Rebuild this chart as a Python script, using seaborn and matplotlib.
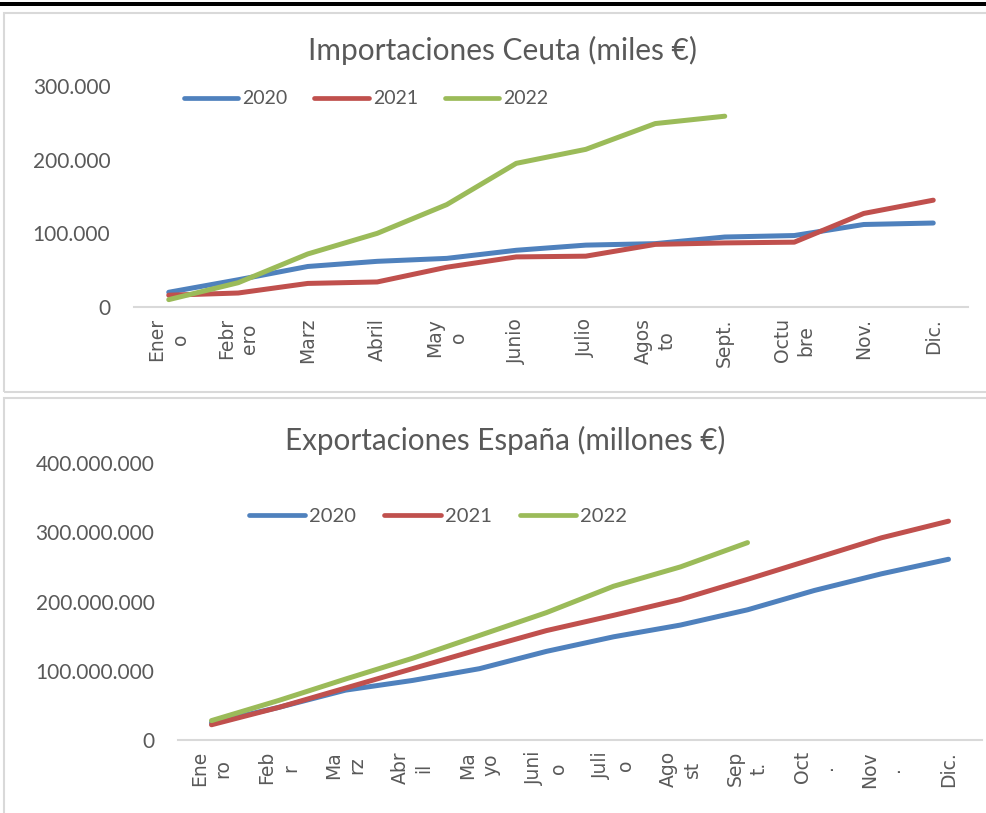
import matplotlib
matplotlib.use("Agg")
import matplotlib.pyplot as plt
import matplotlib.ticker as mticker
from matplotlib.patches import Rectangle
from matplotlib.lines import Line2D
import numpy as np
import pandas as pd
import seaborn as sns

# ─────────────────────────────────────────────
# Datos
years = ["2020", "2021", "2022"]
colors = ["#4F81BD", "#C0504D", "#9BBB59"]

ceuta_labels = ["Ener\no", "Febr\nero", "Marz", "Abril", "May\no", "Junio",
                "Julio", "Agos\nto", "Sept.", "Octu\nbre", "Nov.", "Dic."]
ceuta_2020 = [20, 37, 55, 62, 66, 77, 84, 86, 95, 97, 112, 114]
ceuta_2021 = [16, 19, 32, 34, 54, 68, 69, 85, 87, 88, 127, 145]
ceuta_2022 = [10, 33, 72, 100, 139, 195, 214, 249, 259]

espana_labels = ["Ene\nro", "Feb\nr", "Ma\nrz", "Abr\nil", "Ma\nyo", "Juni\no",
                 "Juli\no", "Ago\nst", "Sep\nt.", "Oct\n.", "Nov\n.", "Dic."]
espana_2020 = [25, 47, 72, 86, 103, 128, 149, 166, 188, 216, 240, 261]
espana_2021 = [22, 47, 75, 103, 131, 158, 180, 203, 232, 262, 292, 316]
espana_2022 = [28, 57, 88, 118, 151, 184, 222, 250, 285]


def to_long(series, scale):
    rows = []
    for year, vals in zip(years, series):
        for i, v in enumerate(vals):
            rows.append({"mes": i, "valor": v * scale, "año": year})
    return pd.DataFrame(rows)


df_ceuta = to_long([ceuta_2020, ceuta_2021, ceuta_2022], 1000)
df_espana = to_long([espana_2020, espana_2021, espana_2022], 1_000_000)

sns.set_theme(style="white")
plt.rcParams["font.family"] = ["Lato", "DejaVu Sans"]

W, H = 987, 813
fig = plt.figure(figsize=(W / 100, H / 100), dpi=100)
grey_txt = "#595959"
grey_line = "#D9D9D9"

# marco superior negro y cajas grises
fig.patches.append(Rectangle((0, 1 - 6 / H), 1, 4 / H, transform=fig.transFigure,
                             facecolor="black", edgecolor="none"))
fig.patches.append(Rectangle((4 / W, 1 - 392 / H), 1.1, (392 - 13) / H, transform=fig.transFigure,
                             facecolor="none", edgecolor=grey_line, linewidth=1.5))
fig.patches.append(Rectangle((4 / W, -0.05), 1.1, 1 - 398 / H + 0.05, transform=fig.transFigure,
                             facecolor="none", edgecolor=grey_line, linewidth=1.5))


def px_axes(x0, x1, y_top, y_bottom):
    return fig.add_axes([x0 / W, 1 - y_bottom / H, (x1 - x0) / W, (y_bottom - y_top) / H])


def style_axes(ax, labels, ymax, ystep, ypad):
    ax.set_xlim(-0.5, 11.5)
    ax.set_ylim(0, ymax)
    ax.set_xticks(range(12))
    ax.set_xticklabels(labels, rotation=90, ha="center", va="top",
                       family="DejaVu Sans", fontsize=13.5, color=grey_txt, linespacing=1.3)
    ax.set_yticks(np.arange(0, ymax + 1, ystep))
    ax.yaxis.set_major_formatter(mticker.FuncFormatter(lambda v, p: f"{int(v):,}".replace(",", ".")))
    ax.tick_params(axis="y", length=0, pad=ypad, labelsize=15, labelcolor=grey_txt)
    ax.tick_params(axis="x", length=0, pad=8)
    for s in ["top", "right", "left"]:
        ax.spines[s].set_visible(False)
    ax.spines["bottom"].set_color(grey_line)
    ax.spines["bottom"].set_linewidth(1.5)
    ax.set_xlabel("")
    ax.set_ylabel("")
    ax.grid(False)
    ax.patch.set_alpha(0)


def draw(ax, df):
    sns.lineplot(data=df, x="mes", y="valor", hue="año", palette=colors, sort=False,
                 linewidth=3.6, solid_capstyle="round", legend=False, ax=ax)


def add_legend(ax, cx, cy, size):
    handles = [Line2D([], [], color=c, linewidth=3.4, solid_capstyle="round") for c in colors]
    ax.legend(handles, years, loc="center", bbox_to_anchor=(cx / W, 1 - cy / H),
              bbox_transform=fig.transFigure, ncol=3, frameon=False, fontsize=size,
              labelcolor=grey_txt, handlelength=2.8, handletextpad=0.2, columnspacing=1.4)


# ─────────────────────────────────────────────
# Importaciones Ceuta
ax1 = px_axes(134, 968, 86, 307)
draw(ax1, df_ceuta)
style_axes(ax1, ceuta_labels, 300000, 100000, 17)
add_legend(ax1, 366, 99, 14)
fig.text(503 / W, 1 - 50 / H, "Importaciones Ceuta (miles €)", ha="center", va="center",
         fontsize=21.5, color=grey_txt)

# ─────────────────────────────────────────────
# Exportaciones España
ax2 = px_axes(178, 982, 463, 740)
draw(ax2, df_espana)
style_axes(ax2, espana_labels, 400000000, 100000000, 17)
add_legend(ax2, 438, 516, 14.5)
fig.text(505 / W, 1 - 440 / H, "Exportaciones España (millones €)", ha="center", va="center",
         fontsize=21.3, color=grey_txt)

fig.savefig("out.png", dpi=100)
plt.close(fig)
